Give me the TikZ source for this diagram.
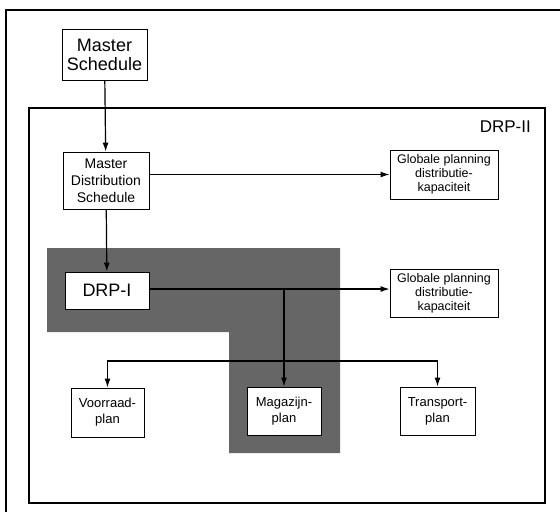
\documentclass[tikz,border=0pt]{standalone}
\usepackage{fontspec}
\setmainfont{Liberation Sans}
\usetikzlibrary{arrows.meta}

\begin{document}
\begin{tikzpicture}[
x=1pt, y=-1pt,
box/.style={
draw,
line width=0.8pt,
fill=white,
align=center,
inner sep=1pt,
font=\fontsize{12.5}{14}\selectfont
},
line/.style={-{Latex[length=9pt,width=6pt]}, line width=1.2pt},
frame/.style={line width=1.3pt}
]
\useasboundingbox (0,0) rectangle (560,512);

% frames and shaded DRP-I area
\draw[line width=1.8pt] (6,512) |- (560,10);
\draw[frame] (29,108) rectangle (545,503);
\fill[black!60] (47,248) -- (340,248) -- (340,453) -- (229,453)
  -- (229,332) -- (47,332) -- cycle;
\node[anchor=north east, inner sep=0pt,
  font=\fontsize{17}{19}\selectfont] (drp2) at (531,121) {DRP-II};

% blocks
\node[box, minimum width=85pt, minimum height=51pt,
  font=\fontsize{18}{19}\selectfont] (msched) at (104.5,54.5) {Master\\Schedule};
\node[box, minimum width=86pt, minimum height=57pt,
  font=\fontsize{14}{17}\selectfont] (mds) at (106,180.5)
  {Master\\Distribution\\Schedule};
\node[box, minimum width=108pt, minimum height=49pt] (glob1) at (444,174.5)
  {Globale planning\\distributie-\\kapaciteit};
\node[box, minimum width=84pt, minimum height=37pt,
  font=\fontsize{18}{20}\selectfont] (drpi) at (107,290.5) {DRP-I};
\node[box, minimum width=108pt, minimum height=48pt] (glob2) at (444,293)
  {Globale planning\\distributie-\\kapaciteit};
\node[box, minimum width=73pt, minimum height=49pt,
  font=\fontsize{13}{16}\selectfont] (voor) at (107.5,412.5) {Voorraad-\\plan};
\node[box, minimum width=74pt, minimum height=48pt,
  font=\fontsize{13}{16}\selectfont] (mag) at (284,411) {Magazijn-\\plan};
\node[box, minimum width=75pt, minimum height=48pt,
  font=\fontsize{13}{16}\selectfont] (trans) at (437.5,411) {Transport-\\plan};

\coordinate (split) at (284,289);
\coordinate (dist) at (284,361);

% arrows
\draw[line] (msched) -- (mds);
\draw[line] (mds.east |- glob1.west) -- (glob1.west);
\draw[line] (mds) -- (drpi);
\draw[line] (drpi.east |- split) -- (split -| glob2.west);
\draw[line width=1.2pt] (split) -- (dist);
\draw[line] (dist) -| (voor);
\draw[line] (dist) -- (mag);
\draw[line] (dist) -| (trans);

\end{tikzpicture}
\end{document}
